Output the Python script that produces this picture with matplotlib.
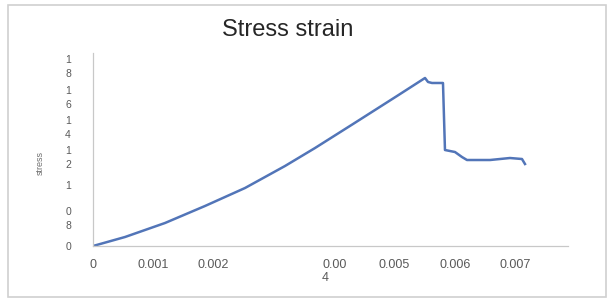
import matplotlib
matplotlib.use("Agg")
import matplotlib.pyplot as plt
from matplotlib.patches import Rectangle

plt.rcParams['font.family'] = ['Liberation Sans', 'DejaVu Sans']

# strain / stress
strain = [0, 0.000531, 0.001194, 0.001857, 0.002521, 0.003184, 0.003682, 0.004312,
          0.005041, 0.005506, 0.005556, 0.005622, 0.005804, 0.005837, 0.006003,
          0.006119, 0.006202, 0.006584, 0.006915, 0.007114, 0.007164]
stress = [0, 0.297, 0.759, 1.320, 1.914, 2.640, 3.234, 4.026,
          4.950, 5.545, 5.413, 5.380, 5.380, 3.168, 3.102,
          2.937, 2.838, 2.838, 2.904, 2.871, 2.706]

xtick_vals = [0, 0.001, 0.002, 0.004, 0.005, 0.006, 0.007]
xtick_labels = ["0", "0.001", "0.002", "0.00\n4", "0.005", "0.006", "0.007"]
ytick_vals = [0, 1, 2, 3, 4, 5, 6]
ytick_labels = ["0", "0\n8", "1", "1\n2", "1\n4", "1\n6", "1\n8"]

fig = plt.figure(figsize=(6.13, 3.01), dpi=100)
fig.patches.append(Rectangle((8 / 613, 4 / 301), 598 / 613, 292 / 301, transform=fig.transFigure,
                             fill=False, edgecolor='#d0d0d0', linewidth=1.2))

ax = fig.add_axes([93 / 613, 1 - 246 / 301, (568 - 93) / 613, (246 - 53) / 301])
ax.plot(strain, stress, color='#5275b8', linewidth=1.8, solid_joinstyle='round')

ax.set_xlim(0, (568 - 93) / 60300)
ax.set_ylim(0, (246 - 53) / 30.3)

ax.set_xticks(xtick_vals)
ax.set_xticklabels(xtick_labels)
ax.set_yticks(ytick_vals)
ax.set_yticklabels(ytick_labels, ha='center', multialignment='center', linespacing=1.5)
for lab in ax.get_xticklabels():
    lab.set_multialignment('left')

ax.tick_params(axis='x', length=0, pad=9, labelsize=9, labelcolor='#595959')
ax.tick_params(axis='y', length=0, pad=18, labelsize=7.5, labelcolor='#595959')

for side in ['top', 'right']:
    ax.spines[side].set_visible(False)
for side in ['left', 'bottom']:
    ax.spines[side].set_color('#c8c8c8')
    ax.spines[side].set_linewidth(0.9)

fig.text(288 / 613, 1 - 30 / 301, "Stress strain", ha='center', va='center',
         fontsize=17, color='#262626')
fig.text(40 / 613, 1 - 163 / 301, "stress", ha='center', va='center', rotation=90,
         fontsize=6.5, color='#6f6f6f')

fig.savefig("out.png", dpi=100)
